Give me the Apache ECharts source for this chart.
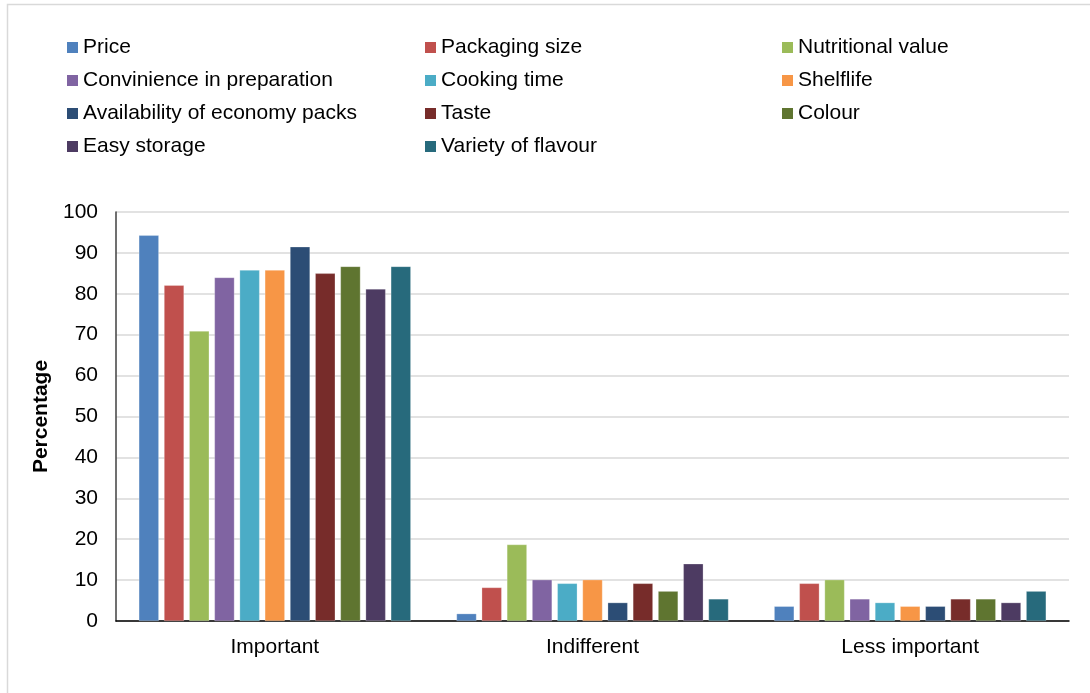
<!DOCTYPE html>
<html><head><meta charset="utf-8">
<script src="https://cdn.jsdelivr.net/npm/echarts@6/dist/echarts.min.js"></script>
<style>html,body{margin:0;padding:0;background:#fff}#c{width:1090px;height:693px}</style>
</head><body><div id="c"></div>
<script>
const categories = ['Important', 'Indifferent', 'Less important'];
const seriesNames = ['Price', 'Packaging size', 'Nutritional value', 'Convinience in preparation', 'Cooking time', 'Shelflife', 'Availability of economy packs', 'Taste', 'Colour', 'Easy storage', 'Variety of flavour'];
const price        = [94.3, 1.8, 3.6];
const packaging    = [82.1, 8.2, 9.2];
const nutritional  = [70.9, 18.7, 10.1];
const convinience  = [84.0, 10.1, 5.4];
const cooking      = [85.8, 9.2, 4.5];
const shelflife    = [85.8, 10.1, 3.6];
const availability = [91.5, 4.5, 3.6];
const taste        = [85.0, 9.2, 5.4];
const colour       = [86.7, 7.3, 5.4];
const storage      = [81.2, 14.0, 4.5];
const variety      = [86.7, 5.4, 7.3];
const yTicks = [0, 10, 20, 30, 40, 50, 60, 70, 80, 90, 100];

const values = [price, packaging, nutritional, convinience, cooking, shelflife, availability, taste, colour, storage, variety];
const colors = ['#4F81BD', '#C0504D', '#9BBB59', '#8064A2', '#4BACC6', '#F79646', '#2C4D75', '#772C2A', '#5F7530', '#4D3B62', '#276A7C'];
const font = '"Liberation Sans", Arial, sans-serif';

const legendCols = [[0, 3, 6, 9], [1, 4, 7, 10], [2, 5, 8]];
const legendLefts = [67, 425, 782];
const legends = legendCols.map((idx, i) => ({
  orient: 'vertical', left: legendLefts[i], top: 37, padding: 0,
  itemWidth: 11, itemHeight: 11, itemGap: 12, icon: 'rect',
  selectedMode: false,
  itemStyle: {borderWidth: 0},
  textStyle: {fontFamily: font, fontSize: 21, color: '#000', lineHeight: 21, padding: [0, 0, 0, 0]},
  data: idx.map(k => seriesNames[k])
}));

const chart = echarts.init(document.getElementById('c'), null, {renderer: 'canvas'});
chart.setOption({
  animation: false,
  backgroundColor: '#fff',
  graphic: [{type: 'rect', shape: {x: 7.5, y: 4.5, width: 1200, height: 800}, style: {fill: 'none', stroke: '#d9d9d9', lineWidth: 1.5}, silent: true}],
  legend: legends,
  grid: {left: 116, right: 21, top: 212, bottom: 72, containLabel: false},
  xAxis: {
    type: 'category', data: categories,
    axisLine: {lineStyle: {color: '#000', width: 1.5}},
    axisTick: {show: false},
    axisLabel: {fontFamily: font, fontSize: 21, color: '#000', margin: 16}
  },
  yAxis: {
    type: 'value', min: yTicks[0], max: yTicks[yTicks.length - 1], interval: 10,
    name: 'Percentage', nameLocation: 'middle', nameGap: 64, nameRotate: 90,
    nameTextStyle: {fontFamily: font, fontSize: 21, fontWeight: 'bold', color: '#000'},
    axisLine: {show: true, lineStyle: {color: '#404040', width: 1.5}},
    axisTick: {show: false},
    axisLabel: {fontFamily: font, fontSize: 21, color: '#000', margin: 18},
    splitLine: {lineStyle: {color: '#d9d9d9', width: 1.5}}
  },
  series: seriesNames.map((n, i) => ({
    name: n, type: 'bar', data: values[i], barWidth: 20, barGap: '26%',
    itemStyle: {color: colors[i], borderColor: 'rgba(255,255,255,0.5)', borderWidth: 0.5}
  }))
});
</script></body></html>
